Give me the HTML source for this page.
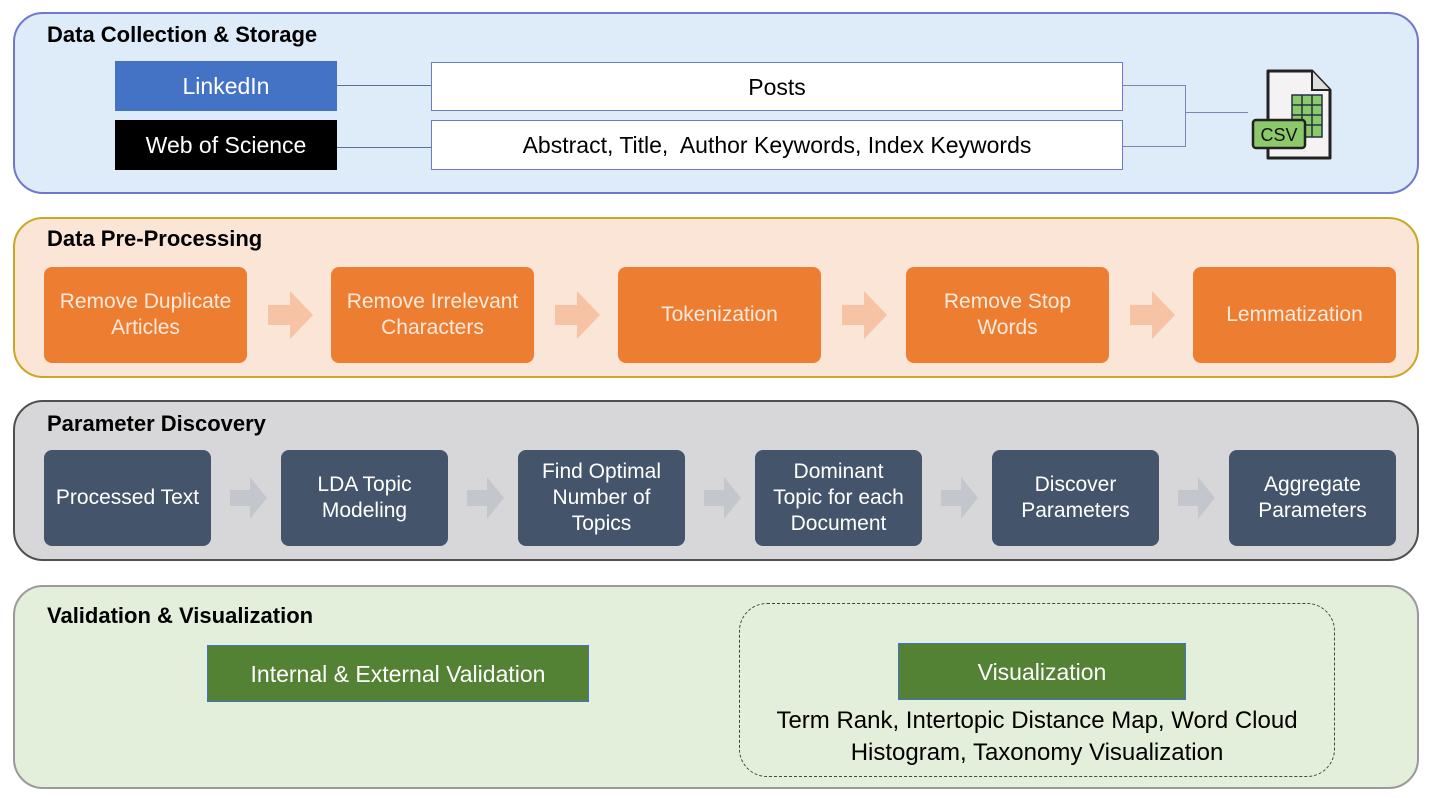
<!DOCTYPE html>
<html><head><style>
body{margin:0;width:1431px;height:798px;background:#fff;position:relative;font-family:"Liberation Sans",sans-serif;overflow:hidden}
div{position:absolute;box-sizing:border-box}
.p{border-radius:30px;border:2px solid}
.t{font-weight:bold;font-size:22px;color:#000}
.b{display:flex;align-items:center;justify-content:center;text-align:center;line-height:26px}
.o{background:#ed7d31;color:#fde9dc;font-size:21px;border-radius:8px;top:267px;height:96px;width:203px}
.d{background:#44546a;color:#fff;font-size:21px;border-radius:8px;top:450px;height:96px;width:167px}
.l{background:#5b6f9a}
</style></head><body>
<div class="p" style="left:13px;top:12px;width:1406px;height:182px;background:#deebf8;border-color:#6e78d0"></div>
<div class="t" style="left:47px;top:22px">Data Collection &amp; Storage</div>
<div class="b" style="left:115px;top:61px;width:222px;height:50px;background:#4472c4;color:#fff;font-size:23px">LinkedIn</div>
<div class="b" style="left:115px;top:120px;width:222px;height:50px;background:#000;color:#fff;font-size:23px">Web of Science</div>
<div class="b" style="left:431px;top:62px;width:692px;height:49px;background:#fff;border:1px solid #6e78d0;font-size:23px">Posts</div>
<div class="b" style="left:431px;top:120px;width:692px;height:50px;background:#fff;border:1px solid #6e78d0;font-size:23px">Abstract, Title,&nbsp; Author Keywords, Index Keywords</div>
<div style="left:337px;top:85px;width:94px;height:1px;background:#5b6f9a"></div>
<div style="left:337px;top:147px;width:94px;height:1px;background:#5b6f9a"></div>
<div style="left:1123px;top:85px;width:63px;height:62px;border:1px solid #7a86b0;border-left:none"></div>
<div style="left:1186px;top:112px;width:62px;height:1px;background:#7a86b0"></div>
<svg style="position:absolute;left:1248px;top:68px" width="90" height="96" viewBox="0 0 90 96">
<path d="M20 3 H64 L82 22 V90 H20 Z" fill="#f4f2f2" stroke="#222" stroke-width="3" stroke-linejoin="round"/>
<path d="M64 3 V22 H82" fill="#ddd" stroke="#222" stroke-width="2"/>
<rect x="44" y="27" width="30" height="42" fill="#8cc96a" stroke="#234" stroke-width="1.5"/>
<path d="M44 37H74M44 47H74M44 57H74M54 27V69M64 27V69" stroke="#234" stroke-width="1.5"/>
<rect x="5" y="52" width="52" height="28" rx="3" fill="#8cc96a" stroke="#222" stroke-width="2.5"/>
<text x="31" y="73" text-anchor="middle" font-family="Liberation Sans" font-size="18" fill="#111">CSV</text>
</svg>

<div class="p" style="left:13px;top:217px;width:1406px;height:161px;background:#fbe5d6;border-color:#c9a826"></div>
<div class="t" style="left:47px;top:226px">Data Pre-Processing</div>
<div class="b o" style="left:44px">Remove Duplicate<br>Articles</div>
<div class="b o" style="left:331px">Remove Irrelevant<br>Characters</div>
<div class="b o" style="left:618px">Tokenization</div>
<div class="b o" style="left:906px">Remove Stop<br>Words</div>
<div class="b o" style="left:1193px">Lemmatization</div>
<svg style="position:absolute;left:0;top:0" width="1431" height="798">
<g fill="#f6c3a5">
<path d="M268 305h22v-14l23 24-23 24v-14h-22z"/>
<path d="M555 305h22v-14l23 24-23 24v-14h-22z"/>
<path d="M842 305h22v-14l23 24-23 24v-14h-22z"/>
<path d="M1130 305h22v-14l23 24-23 24v-14h-22z"/>
</g>
<g fill="#c3c7cd">
<path d="M230 490h20v-13l17 21-17 21v-13h-20z"/>
<path d="M467 490h20v-13l17 21-17 21v-13h-20z"/>
<path d="M704 490h20v-13l17 21-17 21v-13h-20z"/>
<path d="M941 490h20v-13l17 21-17 21v-13h-20z"/>
<path d="M1178 490h20v-13l17 21-17 21v-13h-20z"/>
</g>
</svg>

<div class="p" style="left:13px;top:400px;width:1406px;height:161px;background:#d7d7d9;border-color:#505050"></div>
<div class="t" style="left:47px;top:411px">Parameter Discovery</div>
<div class="b d" style="left:44px">Processed Text</div>
<div class="b d" style="left:281px">LDA Topic<br>Modeling</div>
<div class="b d" style="left:518px">Find Optimal<br>Number of<br>Topics</div>
<div class="b d" style="left:755px">Dominant<br>Topic for each<br>Document</div>
<div class="b d" style="left:992px">Discover<br>Parameters</div>
<div class="b d" style="left:1229px">Aggregate<br>Parameters</div>
<svg style="position:absolute;left:0;top:0" width="1431" height="798">
<g fill="#c3c7cd">
<path d="M230 490h20v-13l17 21-17 21v-13h-20z"/>
<path d="M467 490h20v-13l17 21-17 21v-13h-20z"/>
<path d="M704 490h20v-13l17 21-17 21v-13h-20z"/>
<path d="M941 490h20v-13l17 21-17 21v-13h-20z"/>
<path d="M1178 490h20v-13l17 21-17 21v-13h-20z"/>
</g></svg>

<div class="p" style="left:13px;top:585px;width:1406px;height:204px;background:#e3efdb;border-color:#9a9a9a"></div>
<div class="t" style="left:47px;top:603px">Validation &amp; Visualization</div>
<div class="b" style="left:207px;top:645px;width:382px;height:57px;background:#548235;color:#fff;font-size:23px;border:1px solid #4472c4">Internal &amp; External Validation</div>
<div style="left:739px;top:603px;width:596px;height:174px;border:1.5px dashed #444;border-radius:28px"></div>
<div class="b" style="left:898px;top:643px;width:288px;height:57px;background:#548235;color:#fff;font-size:23px;border:1px solid #4472c4">Visualization</div>
<div style="left:739px;top:705px;width:596px;text-align:center;font-size:24px;line-height:32px;color:#000">Term Rank, Intertopic Distance Map, Word Cloud<br>Histogram, Taxonomy Visualization</div>
</body></html>
